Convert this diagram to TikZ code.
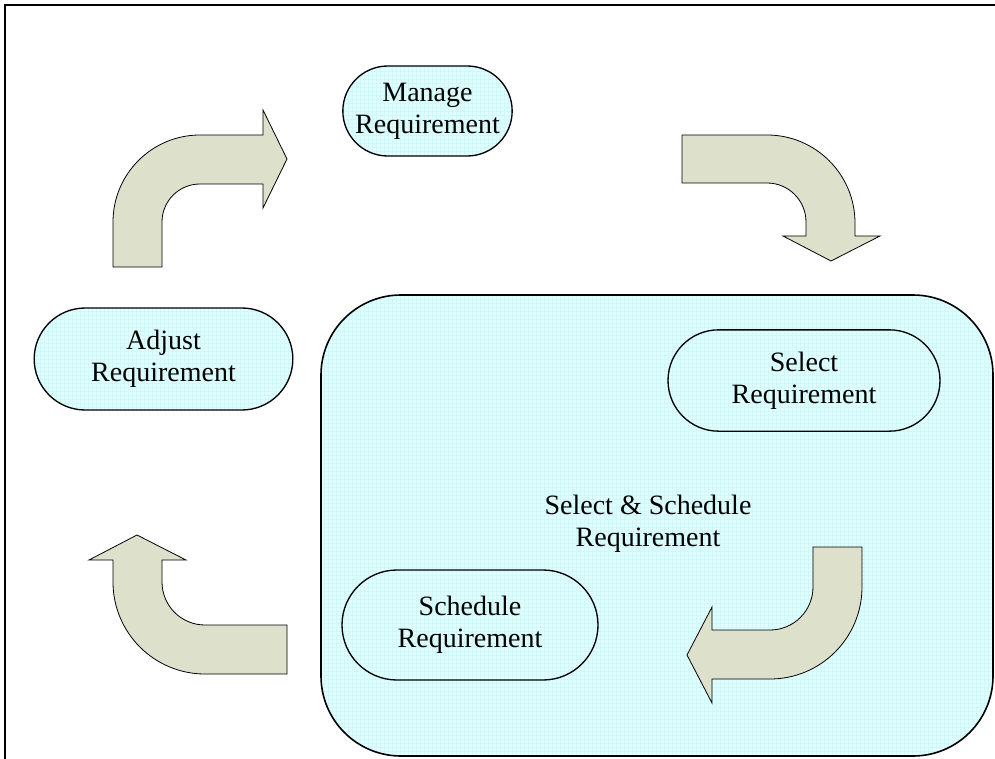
\documentclass[tikz,border=0pt]{standalone}
\usepackage{fontspec}
\setmainfont{Liberation Serif}
\usetikzlibrary{shapes.misc, patterns}
\definecolor{pillcyan}{RGB}{224,255,255}
\definecolor{gridcyan}{RGB}{208,247,250}
\definecolor{arrowgrey}{RGB}{221,224,203}
\begin{document}
\begin{tikzpicture}[x=0.75pt, y=-0.75pt, font=\fontsize{21}{24}\selectfont, cyanfill/.style={preaction={fill=pillcyan}, preaction={pattern=grid, pattern color=gridcyan}}, pill/.style={draw, line width=1pt, cyanfill, rounded rectangle, align=center, inner sep=0pt}, bentarrow/.style={draw, fill=arrowgrey, line width=0.6pt, line join=miter}]
        \useasboundingbox (0,0) rectangle (995,759);
        \draw[line width=1.5pt] (5,759) -- (5,5) -- (995,5);
        % group box
        \draw[line width=1.2pt, cyanfill, rounded corners=60pt] (321,295) rectangle (993,756);
        \node[align=center] (sslabel) at (648,524) {Select \& Schedule\\Requirement};
        % the four steps
        \node[pill, minimum width=127pt, minimum height=67.5pt] (manage) at (427.5,111) {Manage\\Requirement};
        \node[pill, minimum width=194pt, minimum height=76.5pt] (adjust) at (163.5,359) {Adjust\\Requirement};
        \node[pill, minimum width=204pt, minimum height=76pt] (select) at (804,380.5) {Select\\Requirement};
        \node[pill, minimum width=192pt, minimum height=82.5pt] (schedule) at (470,625) {Schedule\\Requirement};
        % bent arrows
        \draw[bentarrow] (113,267) -- (113,222) arc (180:270:87) -- (263,135) -- (263,110) -- (287,159) -- (263,208) -- (263,184) -- (200,184) arc (270:180:38) -- (162,267) -- cycle;
        \draw[bentarrow] (682,135) -- (767,135) arc (270:360:88) -- (855,236) -- (880,236) -- (831,261) -- (783,236) -- (806,236) -- (806,222) arc (0:-90:39) -- (682,183) -- cycle;
        \draw[bentarrow] (813,547) -- (862,547) -- (862,587) arc (0:90:92) -- (712,679) -- (712,703) -- (687,655) -- (712,607) -- (712,630) -- (770,630) arc (90:0:43) -- cycle;
        \draw[bentarrow] (287,625) -- (205,625) arc (90:180:43) -- (162,560) -- (186,560) -- (137,535) -- (89,560) -- (113,560) -- (113,582) arc (180:90:92) -- (287,674) -- cycle;
    \end{tikzpicture}
\end{document}
